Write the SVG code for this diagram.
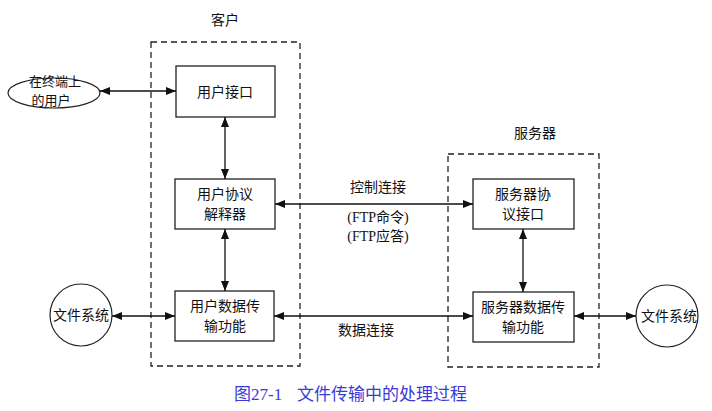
<svg xmlns="http://www.w3.org/2000/svg" width="712" height="411" viewBox="0 0 712 411">
<defs>
<marker id="ah" markerWidth="10" markerHeight="8" refX="10" refY="4" orient="auto-start-reverse" markerUnits="userSpaceOnUse">
<path d="M0,0 L10,4 L0,8 Z" fill="#111"/>
</marker>
<style>
.box{fill:#fff;stroke:#222;stroke-width:1.3}
.dash{fill:none;stroke:#222;stroke-width:1.3;stroke-dasharray:6,4}
.t{font-family:"Noto Sans CJK SC","Liberation Sans",sans-serif;font-size:14px;fill:#111;text-anchor:middle}
.s{font-size:13px}
.l{font-family:"Liberation Serif","Noto Sans CJK SC",serif;font-size:14px;fill:#111;text-anchor:middle}
.c{stroke:#111;stroke-width:1.3;fill:none;marker-start:url(#ah);marker-end:url(#ah)}
.cap{font-family:"Liberation Serif","Noto Sans CJK SC",serif;font-size:17px;fill:#3a3ad6}
</style>
</defs>
<rect width="712" height="411" fill="#fff"/>
<g id="client">
<rect class="dash" x="151" y="42" width="149" height="324"/>
<text class="t" x="225" y="25">客户</text>
</g>
<g id="server">
<rect class="dash" x="448" y="154" width="151" height="213"/>
<text class="t" x="535" y="138">服务器</text>
</g>
<g id="terminal-user">
<ellipse cx="54" cy="93" rx="46" ry="15" fill="#fff" stroke="#222" stroke-width="1.2"/>
<text class="t s" x="55" y="86">在终端上</text>
<text class="t s" x="51" y="105">的用户</text>
</g>
<g id="user-interface">
<rect class="box" x="176" y="66" width="99" height="51"/>
<text class="t" x="225" y="97">用户接口</text>
</g>
<g id="user-pi">
<rect class="box" x="175" y="179" width="100" height="50"/>
<text class="t" x="225" y="199">用户协议</text>
<text class="t" x="225" y="219">解释器</text>
</g>
<g id="user-dtp">
<rect class="box" x="175" y="291" width="99" height="50"/>
<text class="t" x="225" y="311">用户数据传</text>
<text class="t" x="225" y="331">输功能</text>
</g>
<g id="server-pi">
<rect class="box" x="473" y="179" width="101" height="50"/>
<text class="t" x="523" y="199">服务器协</text>
<text class="t" x="523" y="219">议接口</text>
</g>
<g id="server-dtp">
<rect class="box" x="473" y="292" width="101" height="50"/>
<text class="t" x="523" y="312">服务器数据传</text>
<text class="t" x="523" y="332">输功能</text>
</g>
<g id="fs-left">
<circle cx="81" cy="315" r="31" fill="#fff" stroke="#222" stroke-width="1.2"/>
<text class="t" x="81" y="320">文件系统</text>
</g>
<g id="fs-right">
<circle cx="667" cy="316" r="31" fill="#fff" stroke="#222" stroke-width="1.2"/>
<text class="t" x="669" y="321">文件系统</text>
</g>
<g id="connectors">
<line class="c" x1="100" y1="91" x2="176" y2="91"/>
<line class="c" x1="225" y1="117" x2="225" y2="179"/>
<line class="c" x1="225" y1="229" x2="225" y2="291"/>
<line class="c" x1="112" y1="316" x2="175" y2="316"/>
<line class="c" x1="275" y1="204" x2="473" y2="204"/>
<line class="c" x1="274" y1="316" x2="473" y2="316"/>
<line class="c" x1="523" y1="229" x2="523" y2="292"/>
<line class="c" x1="574" y1="316" x2="636" y2="316"/>
<text class="t" x="378" y="192">控制连接</text>
<text class="l" x="378" y="222">(FTP命令)</text>
<text class="l" x="378" y="241">(FTP应答)</text>
<text class="t" x="366" y="335">数据连接</text>
</g>
<text class="cap" x="234" y="400">图27-1</text>
<text class="cap" x="297" y="400">文件传输中的处理过程</text>
</svg>
